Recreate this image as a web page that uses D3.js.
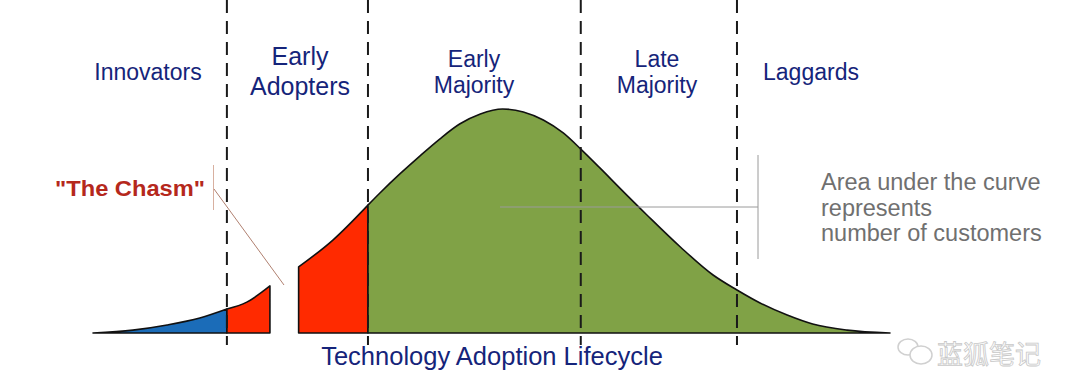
<!DOCTYPE html>
<html>
<head>
<meta charset="utf-8">
<script src="https://cdn.jsdelivr.net/npm/d3@7"></script>
<style>
  html, body { margin: 0; padding: 0; background: #fff; }
  svg { display: block; font-family: "Liberation Sans", Arial, sans-serif; }
</style>
</head>
<body>
<div id="chart"></div>
<script>
// ---- Data (adoption timeline 0..100, relative number of customers 0..100)
const curveX = [0, 5.0, 9.3, 13.4, 16.8, 19.3, 22.2, 25.8, 30.1, 34.5, 36.0, 38.5, 41.0, 43.5, 46.0, 48.6,
                51.4, 54.0, 56.5, 59.0, 61.2, 63.6, 66.1, 69.5, 73.7, 77.8, 80.8, 83.7, 87.1, 90.3, 94.6, 100];
const curveY = [0, 1.3, 3.6, 6.7, 10.7, 13.8, 21.0, 29.5, 41.5, 57.1, 62.5, 71.0, 79.0, 86.6, 93.3, 97.8,
                100, 98.7, 95.1, 89.3, 82.1, 73.7, 64.7, 52.7, 38.4, 25.9, 19.2, 13.4, 8.0, 4.0, 1.3, 0];

// phase boundaries (dashed lines)
const phaseBounds = [16.8, 34.5, 61.2, 80.8];
const phaseNames = [["Innovators"], ["Early", "Adopters"], ["Early", "Majority"], ["Late", "Majority"], ["Laggards"]];

// filled pieces of the curve; the gap 22.2..25.8 is the chasm
const segFrom = [0, 16.8, 25.8, 34.5];
const segTo = [16.8, 22.2, 34.5, 100];
const segColors = ["#1b6cb8", "#ff2a00", "#ff2a00", "#80a246"];

const chasmLabel = '"The Chasm"';
const noteLines = ["Area under the curve", "represents", "number of customers"];
const title = "Technology Adoption Lifecycle";
const watermark = "蓝狐笔记";

// ---- Layout
const W = 1080, H = 371;
const navy = "#15247a";

const svg = d3.select("#chart").append("svg")
  .attr("width", W).attr("height", H);

const x = d3.scaleLinear().domain([0, 100]).range([93, 890]);
const y = d3.scaleLinear().domain([0, 100]).range([333, 109]);

const points = curveX.map((d, i) => ({ x: d, y: curveY[i] }));

const area = d3.area()
  .x(d => x(d.x))
  .y0(y(0))
  .y1(d => y(d.y))
  .curve(d3.curveMonotoneX);

// ---- Curve pieces
svg.append("g").selectAll("path")
  .data(segFrom.map((f, i) => ({ from: f, to: segTo[i], color: segColors[i] })))
  .join("path")
  .attr("d", s => area(points.filter(p => p.x >= s.from - 1e-9 && p.x <= s.to + 1e-9)))
  .attr("fill", s => s.color)
  .attr("stroke", "#111")
  .attr("stroke-width", 1.6)
  .attr("stroke-linejoin", "round");

// ---- Annotation lines (area note)
svg.append("line")
  .attr("x1", 500).attr("x2", 758).attr("y1", 207).attr("y2", 207)
  .attr("stroke", "#9a9a9a").attr("stroke-width", 1);
svg.append("line")
  .attr("x1", 758).attr("x2", 758).attr("y1", 155).attr("y2", 259)
  .attr("stroke", "#9a9a9a").attr("stroke-width", 1);

// ---- Phase dividers
svg.append("g").selectAll("line")
  .data(phaseBounds)
  .join("line")
  .attr("x1", d => x(d)).attr("x2", d => x(d))
  .attr("y1", 0).attr("y2", y(0) + 12)
  .attr("stroke", "#1a1a1a")
  .attr("stroke-width", 2)
  .attr("stroke-dasharray", "13,8");

// ---- Phase labels
const labelLayout = [
  { cx: 148, y: 80, size: 23, gap: 0 },
  { cx: 300, y: 65, size: 25, gap: 30 },
  { cx: 474, y: 67, size: 23, gap: 26 },
  { cx: 657, y: 67, size: 23, gap: 26 },
  { cx: 811, y: 80, size: 23, gap: 0 }
];
const labels = svg.append("g").selectAll("text")
  .data(phaseNames)
  .join("text")
  .attr("text-anchor", "middle")
  .attr("fill", navy)
  .attr("font-size", (d, i) => labelLayout[i].size)
  .attr("x", (d, i) => labelLayout[i].cx)
  .attr("y", (d, i) => labelLayout[i].y);
labels.selectAll("tspan")
  .data((d, i) => d.map(t => ({ t, i })))
  .join("tspan")
  .attr("x", d => labelLayout[d.i].cx)
  .attr("dy", (d, j) => j === 0 ? 0 : labelLayout[d.i].gap)
  .text(d => d.t);

// ---- The Chasm
svg.append("text")
  .attr("x", 55).attr("y", 196)
  .attr("fill", "#b5281c")
  .attr("font-size", 22.5)
  .attr("font-weight", "bold")
  .attr("textLength", 150)
  .attr("lengthAdjust", "spacingAndGlyphs")
  .text(chasmLabel);
svg.append("line")
  .attr("x1", 213.5).attr("x2", 213.5).attr("y1", 165).attr("y2", 210)
  .attr("stroke", "#d8b0a0").attr("stroke-width", 1);
svg.append("line")
  .attr("x1", 214).attr("y1", 189).attr("x2", 284).attr("y2", 285)
  .attr("stroke", "#b08070").attr("stroke-width", 1);

// ---- Note
svg.append("g").selectAll("text")
  .data(noteLines)
  .join("text")
  .attr("x", 821)
  .attr("y", (d, i) => 190 + i * 25.5)
  .attr("fill", "#707070")
  .attr("font-size", 23.5)
  .text(d => d);

// ---- Title (cut at the bottom edge in the reference; kept just inside here)
svg.append("text")
  .attr("x", 492).attr("y", 365)
  .attr("text-anchor", "middle")
  .attr("fill", navy)
  .attr("font-size", 25.5)
  .text(title);

// ---- Watermark
const wm = svg.append("g").attr("fill", "none").attr("stroke", "#d0d0d0").attr("stroke-width", 1.5);
wm.append("ellipse").attr("cx", 908).attr("cy", 347).attr("rx", 10).attr("ry", 8);
wm.append("ellipse").attr("cx", 921).attr("cy", 355).attr("rx", 11).attr("ry", 9).attr("fill", "#fff");
svg.append("text")
  .attr("x", 937).attr("y", 364)
  .attr("fill", "#fff")
  .attr("stroke", "#c8c8c8")
  .attr("stroke-width", 0.8)
  .attr("font-family", "Noto Sans CJK SC")
  .attr("font-size", 26)
  .text(watermark);
</script>
</body>
</html>
